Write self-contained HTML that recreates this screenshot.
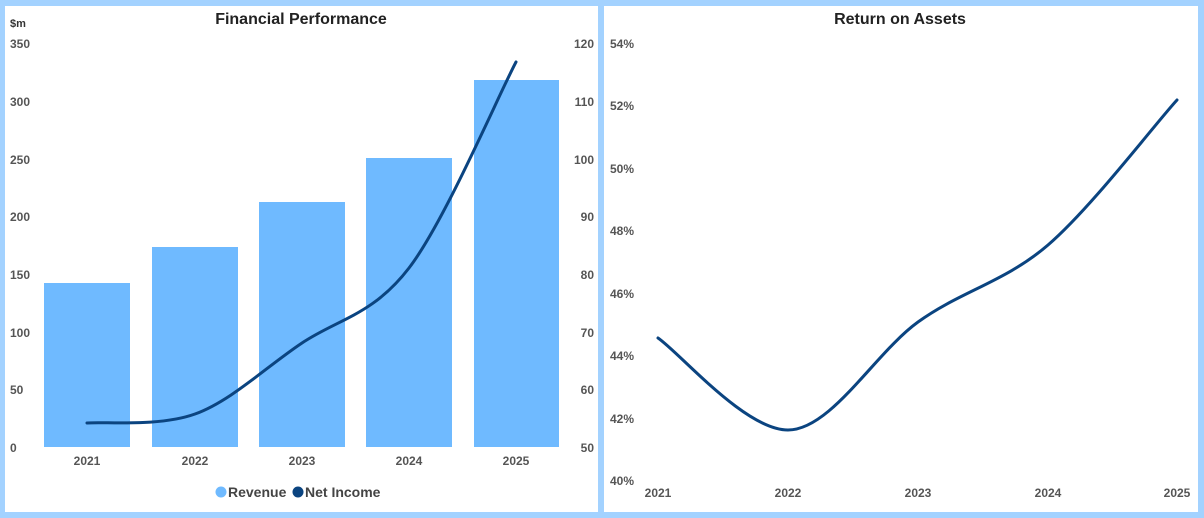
<!DOCTYPE html>
<html><head><meta charset="utf-8"><style>
html,body{margin:0;padding:0;background:#a3d2ff;}
svg{display:block;font-family:"Liberation Sans",sans-serif;}
</style></head><body>
<svg width="1204" height="518" viewBox="0 0 1204 518">
<rect width="1204" height="518" fill="#a3d2ff"/>
<rect x="5" y="6" width="593" height="506" fill="#fff"/>
<rect x="604" y="6" width="594" height="506" fill="#fff"/>
<g font-size="22" font-weight="bold" fill="#222" text-anchor="middle">
<text x="301" y="24" font-size="16">Financial Performance</text>
<text x="900" y="24" font-size="16">Return on Assets</text>
</g>
<g font-size="12" font-weight="bold" fill="#555">
<text x="10" y="27" font-size="11" fill="#333">$m</text>
<g text-anchor="start">
<text x="10" y="48">350</text><text x="10" y="106">300</text><text x="10" y="164">250</text>
<text x="10" y="221">200</text><text x="10" y="279">150</text><text x="10" y="337">100</text>
<text x="10" y="394">50</text><text x="10" y="452">0</text>
</g>
<g text-anchor="end">
<text x="594" y="48">120</text><text x="594" y="106">110</text><text x="594" y="164">100</text>
<text x="594" y="221">90</text><text x="594" y="279">80</text><text x="594" y="337">70</text>
<text x="594" y="394">60</text><text x="594" y="452">50</text>
</g>
<g text-anchor="middle">
<text x="87" y="465">2021</text><text x="195" y="465">2022</text><text x="302" y="465">2023</text>
<text x="409" y="465">2024</text><text x="516" y="465">2025</text>
</g>
<g>
<text x="610" y="48">54%</text><text x="610" y="110">52%</text><text x="610" y="173">50%</text>
<text x="610" y="235">48%</text><text x="610" y="298">46%</text><text x="610" y="360">44%</text>
<text x="610" y="423">42%</text><text x="610" y="485">40%</text>
</g>
<g text-anchor="middle">
<text x="658" y="497">2021</text><text x="788" y="497">2022</text><text x="918" y="497">2023</text>
<text x="1048" y="497">2024</text><text x="1177" y="497">2025</text>
</g>
</g>
<g fill="#6fbaff">
<rect x="44" y="283" width="86" height="164"/>
<rect x="152" y="247" width="86" height="200"/>
<rect x="259" y="202" width="86" height="245"/>
<rect x="366" y="158" width="86" height="289"/>
<rect x="474" y="80" width="85" height="367"/>
</g>
<path d="M87,423 C105,421.5 159,427 195,414 C231,401 266,367 302,343 C338,319 373,315 409,268 C445,221 498,96 516,62" fill="none" stroke="#0b4480" stroke-width="3" stroke-linecap="round"/>
<path d="M658,338 C680,353 745,430 788,430 C831,430 875,353 918,322 C961,291 1005,282 1048,245 C1091,208 1155,124 1177,100" fill="none" stroke="#0b4480" stroke-width="3" stroke-linecap="round"/>
<circle cx="221" cy="492" r="5.5" fill="#6fbaff"/>
<text x="228" y="497" font-size="14" font-weight="bold" fill="#444">Revenue</text>
<circle cx="298" cy="492" r="5.5" fill="#0b4480"/>
<text x="305" y="497" font-size="14" font-weight="bold" fill="#444">Net Income</text>
</svg>
</body></html>
